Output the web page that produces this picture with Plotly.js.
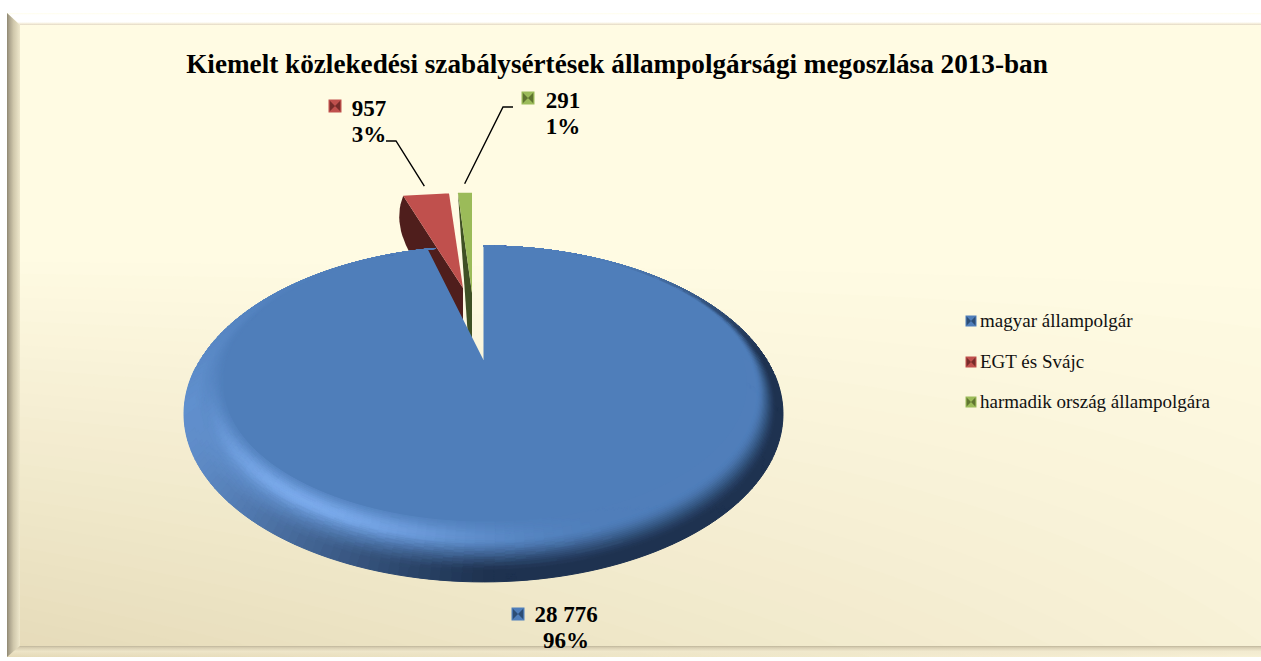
<!DOCTYPE html>
<html>
<head>
<meta charset="utf-8">
<script src="https://cdn.plot.ly/plotly-3.0.1.min.js"></script>
<style>html,body{margin:0;padding:0;background:#fff;overflow:hidden}#chart{width:1261px;height:661px}</style>
</head>
<body>
<div id="chart"></div>
<script>
// ---- data ----
const categories = ['magyar állampolgár', 'EGT és Svájc', 'harmadik ország állampolgára'];
const values = [28776, 957, 291];
const valueLabels = ['28 776', '957', '291'];
const percentLabels = ['96%', '3%', '1%'];
const chartTitle = 'Kiemelt közlekedési szabálysértések állampolgársági megoszlása 2013-ban';

// ---- styles ----
const faceColors = ['#4F7EBA', '#C0504D', '#9BBB59'];
const sideColors = ['#1F3350', '#4F1E1C', '#3F5024'];
const swatchDark = ['#2C4D75', '#772C2A', '#5F7530'];
const serif = '"Liberation Serif", serif';

// ---- layout geometry (pixel-scaled axes) ----
const W = 1261, H_ = 661;
const pieApex = {x: 483.5, y: 360};
const persp = {a: 283.6, b: 150.6, k: 0.3214};
const outer = {x: 483.5, y: 414, rx: 299.5, ry: 168};
const inner = {x: 485, y: 384, rx: 262, ry: 138};
const sliceApex = [[483.5, 360], [463, 288], [472, 293]];
const sliceStretch = [[1, 1], [1.07, 0.83], [1.08, 0.88]];
const labelValuePos = [[566, 616], [369, 110], [563, 102]];
const labelPercentPos = [[566, 642], [369, 136], [563, 128]];
const labelSwatchPos = [[518, 614], [335, 106], [528, 98]];
const legendSwatchPos = [[971, 321], [971, 362], [971, 402]];

// ---- helpers ----
const rad = d => d * Math.PI / 180;
const clamp = (v, a = 0, b = 1) => Math.max(a, Math.min(b, v));
const smooth = (a, b, x) => { const t = clamp((x - a) / (b - a)); return t * t * (3 - 2 * t); };
const rgb = h => [1, 3, 5].map(i => parseInt(h.substr(i, 2), 16));
const mix = (c1, c2, t) => c1.map((v, i) => v + (c2[i] - v) * t);
const hex = (c, q) => '#' + c.map(v => {
  const r = clamp(Math.round(Math.round(v / q) * q), 0, 255);
  return r.toString(16).padStart(2, '0');
}).join('');

// perspective projection of a point on the unit disc
function project(theta) {
  const u = Math.sin(rad(theta)), v = Math.cos(rad(theta));
  const w = 1 + persp.k * v;
  return {x: pieApex.x + persp.a * u / w, y: pieApex.y - persp.b * v / w};
}

const total = values.reduce((a, b) => a + b, 0);
const sweep = values.map(v => v / total * 360);
const starts = sweep.map((_, i) => sweep.slice(0, i).reduce((a, b) => a + b, 0));

function slicePoint(i, theta) {
  const p = project(theta);
  return {
    x: sliceApex[i][0] + sliceStretch[i][0] * (p.x - pieApex.x),
    y: sliceApex[i][1] + sliceStretch[i][1] * (p.y - pieApex.y)
  };
}
function sliceFace(i) {
  const xs = [sliceApex[i][0]], ys = [sliceApex[i][1]];
  const n = Math.max(6, Math.ceil(sweep[i]));
  for (let k = 0; k <= n; k++) {
    const p = slicePoint(i, starts[i] + sweep[i] * k / n);
    xs.push(p.x); ys.push(p.y);
  }
  xs.push(sliceApex[i][0]); ys.push(sliceApex[i][1]);
  return {xs, ys};
}

const traces = [];
function polyTrace(xs, ys, color, name) {
  traces.push({type: 'scatter', mode: 'lines', x: xs, y: ys, fill: 'toself', fillcolor: color,
    line: {width: 0, color}, name: name || '', showlegend: false, hoverinfo: 'skip'});
}
function gradTrace(xs, ys, type, scale) {
  traces.push({type: 'scatter', mode: 'lines', x: xs, y: ys, fill: 'toself',
    fillgradient: {type, colorscale: scale}, line: {width: 0}, showlegend: false, hoverinfo: 'skip'});
}
function meshTraces(quads) {
  const groups = new Map();
  quads.forEach(q => {
    if (!groups.has(q.c)) groups.set(q.c, {x: [], y: []});
    const g = groups.get(q.c);
    q.p.forEach(pt => { g.x.push(pt[0]); g.y.push(pt[1]); });
    g.x.push(q.p[0][0], null); g.y.push(q.p[0][1], null);
  });
  groups.forEach((g, c) => traces.push({type: 'scatter', mode: 'lines', x: g.x, y: g.y, fill: 'toself',
    fillcolor: c, line: {width: 1, color: c}, showlegend: false, hoverinfo: 'skip'}));
}

// ---- background: nested fills, each darker one painted over the last ----
const bgTop = rgb('#FFFBE3'), bgBottom = rgb('#E5DAB8');
const frame = {l: 7, t: 13, r: 1261, b: 657, bevelL: 20, bevelT: 25, bevelB: 646};
(function () {
  polyTrace([frame.l, frame.r, frame.r, frame.l, frame.l], [frame.t, frame.t, frame.b, frame.b, frame.t], hex(bgTop, 1));
  const levels = 34;
  for (let i = 1; i <= levels; i++) {
    const lv = i / levels, xs = [], ys = [];
    for (let x = frame.l; x <= frame.r + 23; x += 24) {
      const xc = Math.min(x, frame.r);
      const y = 250 + 400 * lv / (0.3 + 0.7 * (1 - xc / W));
      xs.push(xc); ys.push(Math.min(y, frame.b));
    }
    xs.push(frame.r, frame.l, xs[0]); ys.push(frame.b, frame.b, ys[0]);
    polyTrace(xs, ys, hex(mix(bgTop, bgBottom, lv), 1));
  }
  gradTrace([frame.l, frame.r, frame.r, frame.bevelL, frame.l], [frame.t, frame.t, frame.bevelT, frame.bevelT, frame.t], 'vertical',
    [[0, '#E2D8C4'], [0.12, '#F5EEDC'], [0.25, '#FFFFFF'], [0.85, '#FFFFFF'], [1, '#FFFDEB']]);
  gradTrace([frame.l, frame.bevelL, frame.bevelL, frame.l, frame.l], [frame.t, frame.bevelT, frame.bevelB, frame.b, frame.t], 'horizontal',
    [[0, '#8E8770'], [0.15, '#A8A08A'], [0.5, '#CFC7AB'], [1, '#EFE8CC']]);
  gradTrace([frame.l, frame.bevelL, frame.r, frame.r, frame.l], [frame.b, frame.bevelB, frame.bevelB, frame.b, frame.b], 'vertical',
    [[0, 'rgba(236,227,198,0)'], [0.5, 'rgba(240,232,205,0.7)'], [0.85, 'rgba(214,204,176,0.9)'], [1, 'rgba(190,181,155,1)']]);
})();

// ---- pulled slices: side walls first, then faces ----
(function () {
  // EGT és Svájc
  const L = slicePoint(1, starts[1]), A = sliceApex[1];
  const wx = [L.x], wy = [L.y];
  for (let k = 1; k <= 12; k++) {
    const t = k / 12, s = 1 - t;
    wx.push(s * s * L.x + 2 * s * t * (L.x - 10) + t * t * (L.x + 5));
    wy.push(s * s * L.y + 2 * s * t * (L.y + 25) + t * t * (L.y + 54));
  }
  wx.push(A[0], A[0], L.x); wy.push(A[1] + 35, A[1], L.y);
  polyTrace(wx, wy, sideColors[1]);
  const f1 = sliceFace(1);
  polyTrace(f1.xs, f1.ys, faceColors[1], categories[1]);

  // harmadik ország állampolgára
  const G = slicePoint(2, starts[2]), B = sliceApex[2];
  polyTrace([G.x, B[0], B[0], B[0] - 4, G.x], [G.y, B[1], B[1] + 44, B[1] + 44, G.y], sideColors[2]);
  const f2 = sliceFace(2);
  polyTrace(f2.xs, f2.ys, faceColors[2], categories[2]);
})();

// ---- main slice: flat face, then shaded rim ----
(function () {
  const xs = [pieApex.x], ys = [pieApex.y];
  const n = 346;
  for (let k = 0; k <= n; k++) { const p = project(sweep[0] * k / n); xs.push(p.x); ys.push(p.y); }
  xs.push(pieApex.x); ys.push(pieApex.y);
  polyTrace(xs, ys, faceColors[0], categories[0]);

  const base = rgb(faceColors[0]), light = rgb('#8CBCFF'), dark = rgb('#1E3250');
  const rings = 32, dTheta = 1.5;
  const ringPoint = (theta, t) => {
    const O = project(theta);
    const beta = Math.atan2((O.x - outer.x) / outer.rx, (outer.y - O.y) / outer.ry);
    const I = {x: inner.x + inner.rx * Math.sin(beta), y: inner.y - inner.ry * Math.cos(beta)};
    return {x: I.x + (O.x - I.x) * t, y: I.y + (O.y - I.y) * t, beta};
  };
  const quads = [];
  for (let th = 0; th < sweep[0] - 0.001; th += dTheta) {
    const th2 = Math.min(th + dTheta, sweep[0]);
    const mid = ringPoint((th + th2) / 2, 0);
    const phi = mid.beta - Math.PI / 2;                 // outward direction, clockwise from east
    const deg = ((phi * 180 / Math.PI) + 540) % 360 - 180;
    const facing = Math.max(0, Math.cos(phi - rad(150)));
    const bottom = Math.max(0, Math.cos(phi - rad(118)));
    const shadow = Math.min(1, 1.7 * 0.5 * (1 - Math.cos(phi - rad(190)))) * (deg < 0 ? smooth(-70, -15, deg) : 1);
    for (let r = 0; r < rings; r++) {
      const t1 = r / rings, t2 = (r + 1) / rings, tm = (t1 + t2) / 2;
      const a = ringPoint(th, t1), b = ringPoint(th2, t1), c = ringPoint(th2, t2), d = ringPoint(th, t2);
      const vL = Math.pow(facing, 1.5) * (0.36 * smooth(0, 0.75, tm) + 0.72 * Math.exp(-Math.pow((tm - 0.24) / 0.2, 2)) * Math.pow(bottom, 2.5));
      const vD = shadow * smooth(0.28, 0.85, tm);
      const col = mix(mix(base, light, clamp(vL)), dark, clamp(vD));
      quads.push({c: hex(col, 2), p: [[a.x, a.y], [b.x, b.y], [c.x, c.y], [d.x, d.y]]});
    }
  }
  meshTraces(quads);
})();

// ---- leader lines (from the small slices to their labels) ----
(function () {
  const p1 = slicePoint(1, starts[1] + sweep[1] * 0.55);
  const p2 = slicePoint(2, starts[2] + sweep[2] * 0.55);
  const labelY1 = labelPercentPos[1][1] + 5, labelY2 = labelValuePos[2][1] + 5;
  [[[386, 396, p1.x - 4], [labelY1, labelY1, p1.y - 8]],
   [[513, 503, p2.x - 1], [labelY2, labelY2, p2.y - 9]]].forEach(l => {
    traces.push({type: 'scatter', mode: 'lines', x: l[0], y: l[1], line: {color: '#000', width: 1.4}, showlegend: false, hoverinfo: 'skip'});
  });
})();

// ---- swatches and labels ----
function swatches(pos, size) {
  traces.push({type: 'scatter', mode: 'markers', x: pos.map(p => p[0]), y: pos.map(p => p[1]),
    marker: {symbol: 'square', size, color: faceColors, line: {width: 0}}, showlegend: false, hoverinfo: 'skip'});
  traces.push({type: 'scatter', mode: 'markers', x: pos.map(p => p[0]), y: pos.map(p => p[1]),
    marker: {symbol: 'bowtie', size: size * 0.8, color: swatchDark, line: {width: 0}}, showlegend: false, hoverinfo: 'skip'});
}
swatches(legendSwatchPos, 11);
swatches(labelSwatchPos, 13);
traces.push({type: 'scatter', mode: 'text', x: legendSwatchPos.map(p => p[0] + 9), y: legendSwatchPos.map(p => p[1] + 1),
  text: categories, textposition: 'middle right', textfont: {family: serif, size: 19, color: '#111'}, showlegend: false, hoverinfo: 'skip'});
traces.push({type: 'scatter', mode: 'text', x: labelValuePos.map(p => p[0]), y: labelValuePos.map(p => p[1]),
  text: valueLabels, textposition: 'middle center', textfont: {family: serif, size: 23, color: '#000', weight: 700}, showlegend: false, hoverinfo: 'skip'});
traces.push({type: 'scatter', mode: 'text', x: labelPercentPos.map(p => p[0]), y: labelPercentPos.map(p => p[1]),
  text: percentLabels, textposition: 'middle center', textfont: {family: serif, size: 23, color: '#000', weight: 700}, showlegend: false, hoverinfo: 'skip'});

const layout = {
  width: W, height: H_,
  margin: {l: 0, r: 0, t: 0, b: 0},
  paper_bgcolor: '#FFFFFF', plot_bgcolor: 'rgba(0,0,0,0)',
  showlegend: false, hovermode: false,
  title: {text: chartTitle, x: 617 / W, xanchor: 'center', y: 1 - 63 / H_, yanchor: 'middle',
    font: {family: serif, size: 27.2, color: '#000', weight: 700}},
  xaxis: {range: [0, W], visible: false, fixedrange: true},
  yaxis: {range: [H_, 0], visible: false, fixedrange: true}
};
Plotly.newPlot('chart', traces, layout, {displayModeBar: false, staticPlot: true});
</script>
</body>
</html>
